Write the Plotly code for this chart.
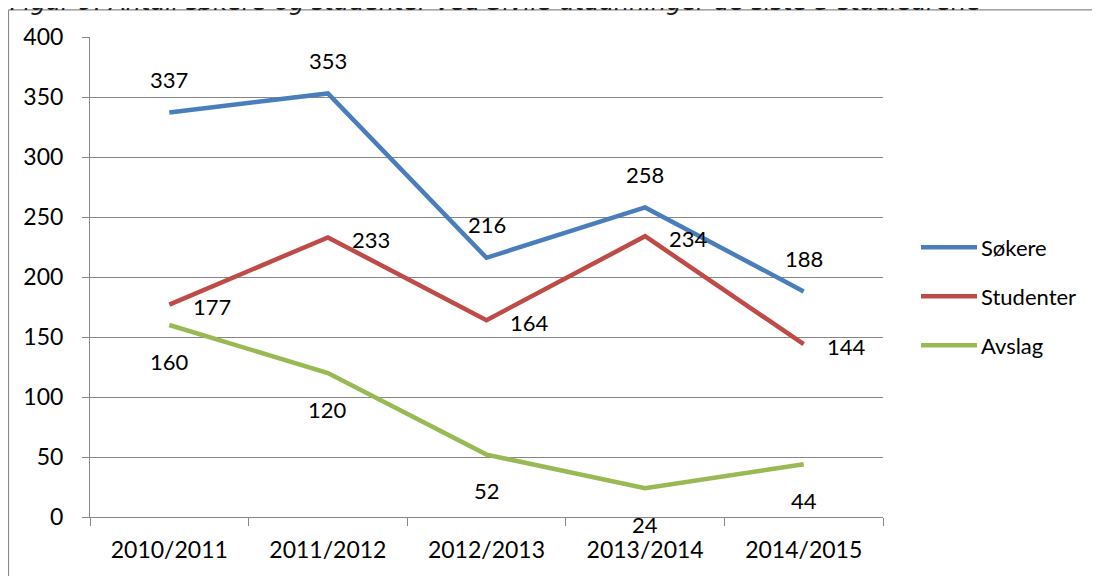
import plotly.graph_objects as go

categories = ["2010/2011", "2011/2012", "2012/2013", "2013/2014", "2014/2015"]
sokere = [337, 353, 216, 258, 188]
studenter = [177, 233, 164, 234, 144]
avslag = [160, 120, 52, 24, 44]
series_names = ["Søkere", "Studenter", "Avslag"]
title_text = "Figur 9: Antall søkere og studenter ved Sivile utdanninger de siste 5 studieårene"

colors = ["#4A7EBB", "#BE4B48", "#98B954"]
FONT = "Lato"
W, H = 1100, 576
OFF = 8  # page body margin
L, R, T, B = 90, 883, 36.7, 516.7
PW, PH = R - L, B - T

def px2x(px):
    return (px - L) / PW

def py2y(py):
    return 1 - (py - T) / PH

fig = go.Figure()
all_series = [sokere, studenter, avslag]
for name, vals, col in zip(series_names, all_series, colors):
    fig.add_trace(go.Scatter(x=categories, y=vals, mode="lines", name=name,
                             line=dict(color=col, width=4.5), showlegend=False,
                             hoverinfo="x+y+name"))

annotations = []
shifts = [(0, 33), (43, -2), (0, -36)]
for vals, (xs, ys) in zip(all_series, shifts):
    for c, v in zip(categories, vals):
        annotations.append(dict(x=c, y=v, xref="x", yref="y", text=str(v), showarrow=False,
                                xshift=xs, yshift=ys, font=dict(family=FONT, size=22, color="#000000")))

shapes = []
leg_y = [247, 296, 345]
for name, col, py in zip(series_names, colors, leg_y):
    shapes.append(dict(type="line", xref="paper", yref="paper", x0=px2x(921), x1=px2x(977),
                       y0=py2y(py), y1=py2y(py), line=dict(color=col, width=4.5)))
    annotations.append(dict(x=px2x(979), y=py2y(py), xref="paper", yref="paper", text=name,
                            showarrow=False, xanchor="left", yanchor="middle",
                            font=dict(family=FONT, size=22, color="#000000")))

shapes.append(dict(type="line", xref="paper", yref="paper", x0=px2x(8.5), x1=px2x(8.5),
                   y0=py2y(9.5), y1=py2y(620), line=dict(color="#8a8a8a", width=1.2)))
shapes.append(dict(type="line", xref="paper", yref="paper", x0=px2x(8.5), x1=px2x(1130),
                   y0=py2y(9.5), y1=py2y(9.5), line=dict(color="#8a8a8a", width=1.2)))

annotations.append(dict(x=px2x(8), y=py2y(18), xref="paper", yref="paper", text=title_text,
                        showarrow=False, xanchor="left", yanchor="bottom",
                        font=dict(family="DejaVu Sans", size=24, color="#1a1a1a", style="italic")))

fig.update_layout(
    width=W, height=H,
    margin=dict(l=L - OFF, r=W - (R - OFF), t=T - OFF, b=H - (B - OFF), pad=0),
    paper_bgcolor="white", plot_bgcolor="white",
    font=dict(family=FONT, size=22, color="#000000"),
    shapes=shapes, annotations=annotations,
    showlegend=False,
)
fig.update_xaxes(type="category", range=[-0.5, 4.5], showgrid=False, showline=True,
                 linecolor="#868686", linewidth=1, ticks="outside", tickson="boundaries",
                 ticklen=8, tickcolor="#868686", tickfont=dict(family=FONT, size=23),
                 ticklabelstandoff=12, fixedrange=True)
fig.update_yaxes(range=[0, 400], dtick=50, showgrid=True, gridcolor="#868686", gridwidth=1,
                 showline=True, linecolor="#868686", linewidth=1, ticks="outside", ticklen=7,
                 tickcolor="#868686", tickfont=dict(family=FONT, size=23), ticklabelstandoff=14,
                 zeroline=False, fixedrange=True)

fig.write_html("out.html")
